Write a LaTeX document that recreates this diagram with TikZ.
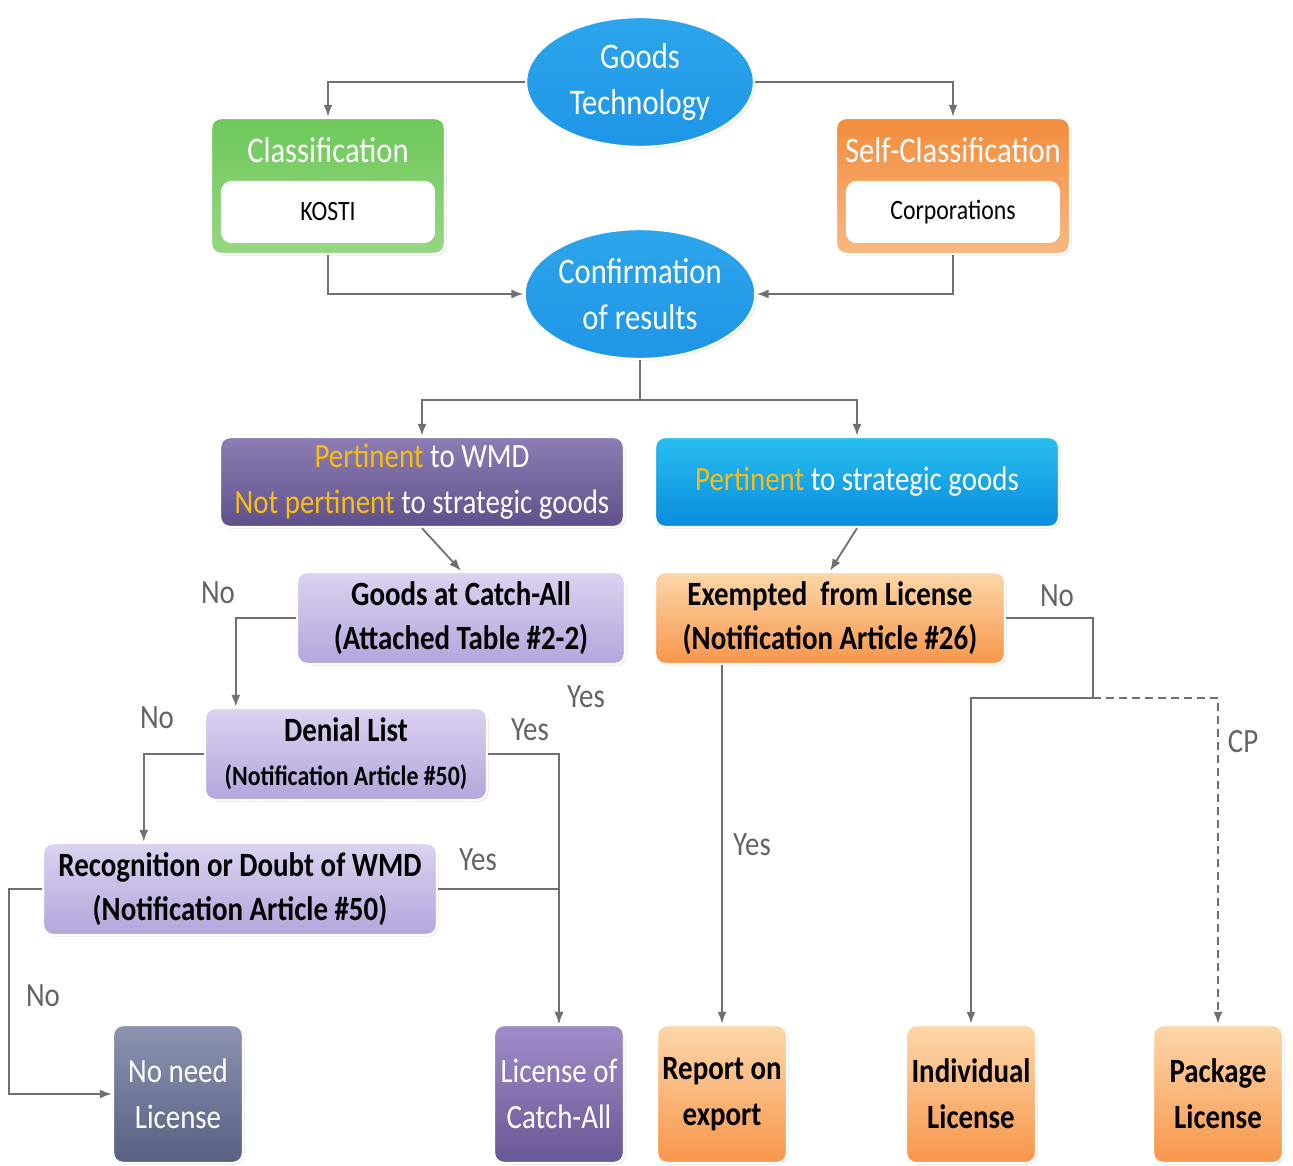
\documentclass[tikz,border=0pt]{standalone}
\usepackage{fontspec}
\setmainfont{Carlito}[FakeStretch=0.85]
\usepackage{tikz}
\usetikzlibrary{shapes.geometric,shadows,arrows.meta}

\definecolor{lnc}{RGB}{112,112,112}
\definecolor{lbc}{RGB}{100,100,100}
\definecolor{ylw}{RGB}{246,190,20}
\definecolor{bluetop}{RGB}{45,165,235}
\definecolor{bluemid}{RGB}{8,105,210}
\definecolor{bluebot}{RGB}{30,150,230}
\definecolor{sbtop}{RGB}{40,190,240}
\definecolor{sbbot}{RGB}{10,140,220}
\definecolor{grtop}{RGB}{110,200,90}
\definecolor{grbot}{RGB}{150,215,130}
\definecolor{ortop}{RGB}{242,140,60}
\definecolor{orbot}{RGB}{248,185,130}
\definecolor{dptop}{RGB}{140,125,180}
\definecolor{dpbot}{RGB}{95,80,140}
\definecolor{lptop}{RGB}{220,210,240}
\definecolor{lpbot}{RGB}{180,165,220}
\definecolor{potop}{RGB}{253,215,170}
\definecolor{pobot}{RGB}{247,150,75}
\definecolor{sltop}{RGB}{140,148,178}
\definecolor{slbot}{RGB}{88,96,130}
\definecolor{vitop}{RGB}{160,140,200}
\definecolor{vibot}{RGB}{105,88,150}

\begin{document}
\begin{tikzpicture}[x=0.5pt,y=-0.5pt,
  >={Latex[length=6pt,width=4.5pt]},
  ln/.style={draw=lnc,line width=0.9pt},
  bx/.style={rectangle,rounded corners=5pt,draw=white,line width=1.2pt,align=center,
    inner sep=2pt,drop shadow={opacity=0.22,shadow xshift=0.8pt,shadow yshift=-0.8pt}},
  oval/.style={ellipse,draw=white,line width=1.2pt,minimum width=114pt,minimum height=65pt,
    inner sep=0pt,align=center,top color=bluetop,middle color=bluemid,bottom color=bluebot,
    text=white,font=\fontsize{18}{23}\selectfont,
    drop shadow={opacity=0.22,shadow xshift=0.8pt,shadow yshift=-0.8pt}},
  inbox/.style={bx,fill=white,minimum width=106pt,minimum height=30pt,
    font=\fontsize{14}{17}\selectfont},
  ttl/.style={text=white,font=\fontsize{18}{22}\selectfont,inner sep=0pt},
  wide/.style={bx,minimum width=202pt,minimum height=45pt,text=white,
    font=\fontsize{17}{23}\selectfont},
  ask/.style={bx,top color=lptop,bottom color=lpbot,minimum height=46pt,
    font=\bfseries\fontsize{17}{22}\selectfont},
  leaf/.style={bx,minimum width=65pt,minimum height=69pt,
    font=\fontsize{17}{23}\selectfont},
  lbl/.style={text=lbc,font=\fontsize{17}{20}\selectfont,inner sep=0pt}]
\useasboundingbox (0,0) rectangle (1293,1165);

% start and classification
\node[oval] (G) at (640,82) {Goods\\Technology};
\node[bx,top color=grtop,bottom color=grbot,minimum width=117pt,minimum height=68pt] (C) at (328,186) {};
\node[inbox] (C1) at (328,212) {KOSTI};
\node[ttl] at (328,150) {Classification};
\node[bx,top color=ortop,bottom color=orbot,minimum width=117pt,minimum height=68pt] (S) at (953,186) {};
\node[inbox] (S1) at (953,212) {Corporations};
\node[ttl] at (953,150) {Self-Classification};
\node[oval] (R) at (640,294) {Confirmation\\of results};

\draw[ln,->] (G) -| (C);
\draw[ln,->] (G) -| (S);
\draw[ln,->] (C) |- (R);
\draw[ln,->] (S) |- (R);

% two kinds of goods
\node[wide,top color=dptop,bottom color=dpbot] (W) at (422,482)
  {{\color{ylw}Pertinent} to WMD\\{\color{ylw}Not pertinent} to strategic goods};
\node[wide,top color=sbtop,bottom color=sbbot] (P) at (857,482)
  {{\color{ylw}Pertinent} to strategic goods};
\coordinate (T) at (640,400);
\draw[ln] (R) -- (T);
\draw[ln,->] (T) -| (W);
\draw[ln,->] (T) -| (P);

% catch-all side
\node[ask,minimum width=164pt] (A) at (461,618) {Goods at Catch-All\\(Attached Table \#2-2)};
\node[ask,minimum width=141pt] (D) at (346,754)
  {Denial List\\{\fontsize{14}{18}\selectfont(Notification Article \#50)}};
\node[ask,minimum width=197pt] (K) at (240,889) {Recognition or Doubt of WMD\\(Notification Article \#50)};
\node[leaf,top color=sltop,bottom color=slbot,text=white] (N) at (178,1094) {No need\\License};
\node[leaf,top color=vitop,bottom color=vibot,text=white] (L) at (559,1094) {License of\\Catch-All};

\draw[ln,->] (W.south) -- (A.north);
\draw[ln,->] (A.west) -| ([xshift=16pt]D.north west);
\draw[ln,->] (D.west) -| ([xshift=51pt]K.north west);
\draw[ln,->] (D.east) -| (L.north);
\draw[ln,->] (K.east) -| (L.north);
\draw[ln,->] (K.west) -- ++(-33,0) |- (N.west);

% strategic side
\node[ask,top color=potop,bottom color=pobot,minimum width=175pt] (E) at (830,618)
  {Exempted~~from License\\(Notification Article \#26)};
\node[leaf,top color=potop,bottom color=pobot,font=\bfseries\fontsize{17}{23}\selectfont] (X) at (722,1094) {Report on\\export};
\node[leaf,top color=potop,bottom color=pobot,font=\bfseries\fontsize{17}{23}\selectfont] (I) at (971,1094) {Individual\\License};
\node[leaf,top color=potop,bottom color=pobot,font=\bfseries\fontsize{17}{23}\selectfont] (Q) at (1218,1094) {Package\\License};

\draw[ln,->] (P.south) -- (E.north);
\draw[ln,->] (E.south -| X.north) -- (X.north);
\coordinate (F) at (1093,698);
\draw[ln] (E.east) -| (F);
\draw[ln,->] (F) -| (I.north);
\draw[ln,->,dash pattern=on 4pt off 2.5pt] (F) -| (Q.north);

% answers
\node[lbl] at (218,593) {No};
\node[lbl] at (157,718) {No};
\node[lbl] at (43,996) {No};
\node[lbl] at (586,697) {Yes};
\node[lbl] at (530,730) {Yes};
\node[lbl] at (478,860) {Yes};
\node[lbl] at (752,845) {Yes};
\node[lbl] at (1057,596) {No};
\node[lbl] at (1243,742) {CP};
\end{tikzpicture}
\end{document}
